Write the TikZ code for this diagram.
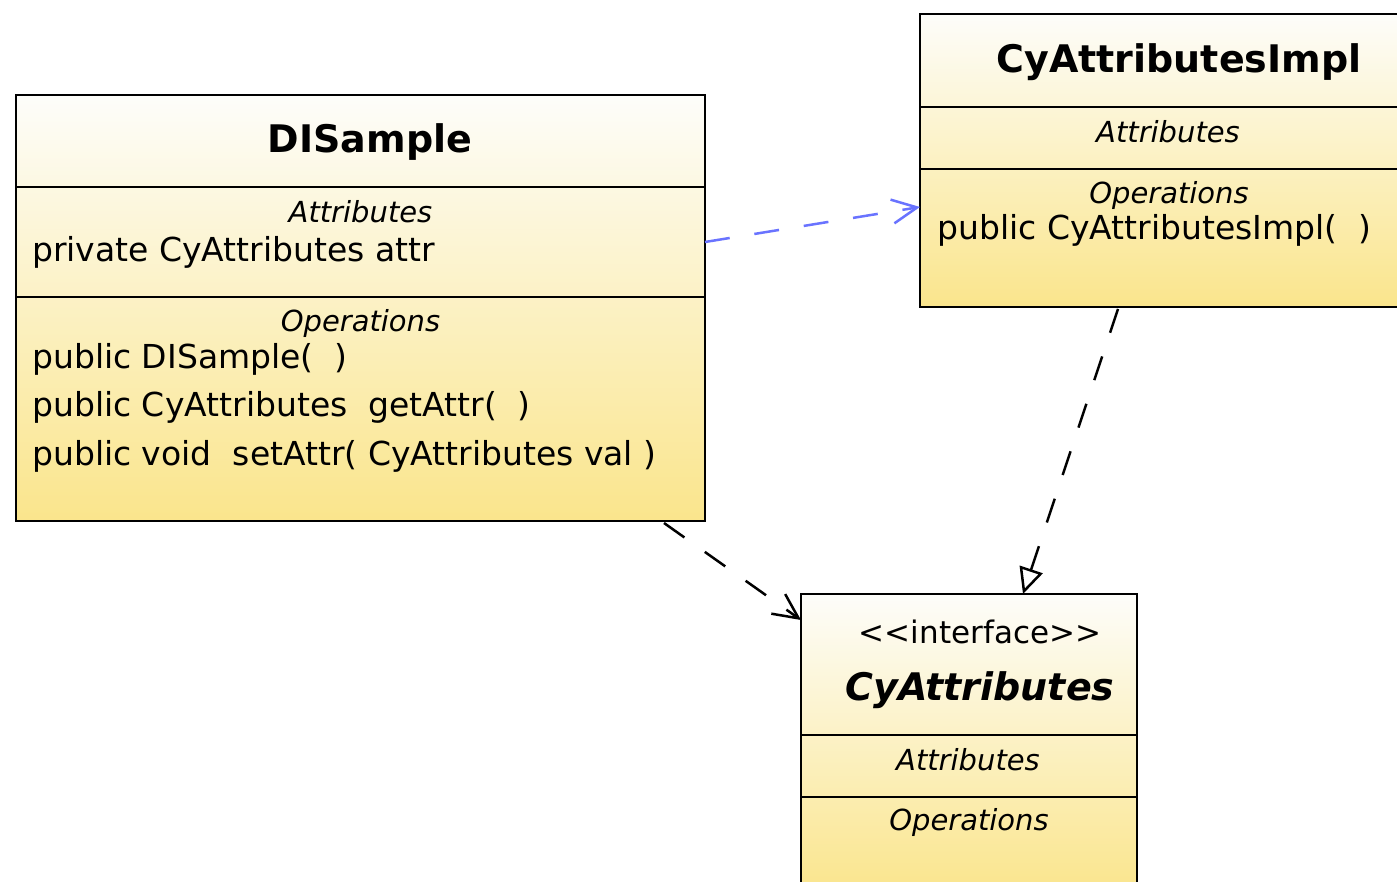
\documentclass[tikz,border=0pt]{standalone}
\usepackage{fontspec}
\setmainfont{DejaVu Sans}[
  ItalicFont={DejaVu Sans Oblique},
  BoldFont={DejaVu Sans Bold},
  BoldItalicFont={DejaVu Sans Bold Oblique}]
\usetikzlibrary{arrows.meta,calc}

\definecolor{boxtop}{RGB}{253,253,250}
\definecolor{boxbot}{RGB}{250,229,140}
\definecolor{deplink}{RGB}{105,115,255}

\tikzset{
  classbox/.style={draw=black, line width=2pt, top color=boxtop, bottom color=boxbot,
    anchor=north west, inner sep=0pt, outer sep=0pt},
  classname/.style={font=\fontsize{38}{46}\selectfont\bfseries, anchor=base, inner sep=0pt},
  ifacename/.style={font=\fontsize{38}{46}\selectfont\bfseries\itshape, anchor=base, inner sep=0pt},
  stereo/.style={font=\fontsize{31}{38}\selectfont, anchor=base, inner sep=0pt},
  compartment/.style={font=\fontsize{29}{35}\selectfont\itshape, anchor=base, inner sep=0pt},
  member/.style={font=\fontsize{33}{40}\selectfont, anchor=base west, inner sep=0pt},
  divider/.style={line width=2pt},
  dep/.style={line width=2.5pt, dash pattern=on 25pt off 25pt,
    -{Straight Barb[length=25pt,width=24pt,line width=2.5pt]}},
  realize/.style={line width=2.5pt, dash pattern=on 25pt off 25pt,
    -{Triangle[open,length=26pt,width=24pt,line width=2.5pt,fill=white]}}
}

\begin{document}
\begin{tikzpicture}[x=1pt,y=-1pt]
  \clip (0,0) rectangle (1397,882);
  \fill[white] (0,0) rectangle (1397,882);

  % class DISample
  \node[classbox, minimum width=689pt, minimum height=426pt] (ds) at (16,95) {};
  \draw[divider] ($(ds.north west)+(0,92)$) -- ($(ds.north east)+(0,92)$);
  \draw[divider] ($(ds.north west)+(0,202)$) -- ($(ds.north east)+(0,202)$);
  \node[classname] (dsname) at (370,153) {DISample};
  \node[compartment] (dsattr) at (360.5,223) {Attributes};
  \node[member] (dsf1) at (32,262) {private CyAttributes attr};
  \node[compartment] (dsops) at (360.5,332) {Operations};
  \node[member] (dsm1) at (32,368) {public DISample(\ \ )};
  \node[member] (dsm2) at (32,416) {public CyAttributes\ \ getAttr(\ \ )};
  \node[member] (dsm3) at (32,465) {public void\ \ setAttr( CyAttributes val )};

  % class CyAttributesImpl
  \node[classbox, minimum width=496pt, minimum height=293pt] (impl) at (920,14) {};
  \draw[divider] ($(impl.north west)+(0,93)$) -- ($(impl.north east)+(0,93)$);
  \draw[divider] ($(impl.north west)+(0,155)$) -- ($(impl.north east)+(0,155)$);
  \node[classname] (implname) at (1179,73) {CyAttributesImpl};
  \node[compartment] (implattr) at (1168,143) {Attributes};
  \node[compartment] (implops) at (1169,204) {Operations};
  \node[member] (implm1) at (937,240) {public CyAttributesImpl(\ \ )};

  % interface CyAttributes
  \node[classbox, minimum width=336pt, minimum height=300pt] (iface) at (801,594) {};
  \draw[divider] ($(iface.north west)+(0,141)$) -- ($(iface.north east)+(0,141)$);
  \draw[divider] ($(iface.north west)+(0,203)$) -- ($(iface.north east)+(0,203)$);
  \node[stereo] (ifacestereo) at (980,643) {<{}<interface>{}>};
  \node[ifacename] (ifacename) at (980,700) {CyAttributes};
  \node[compartment] (ifaceattr) at (968,770) {Attributes};
  \node[compartment] (ifaceops) at (969,830) {Operations};

  % relationships
  \draw[dep, draw=deplink] ($(ds.north east)+(0,147)$) -- ($(impl.north west)+(0,193)$);
  \draw[dep] ($(ds.south east)+(-41,2)$) -- ($(iface.north west)+(0,26)$);
  \draw[realize] ($(impl.south west)+(198,2)$) -- ($(iface.north west)+(222,0)$);
\end{tikzpicture}
\end{document}
